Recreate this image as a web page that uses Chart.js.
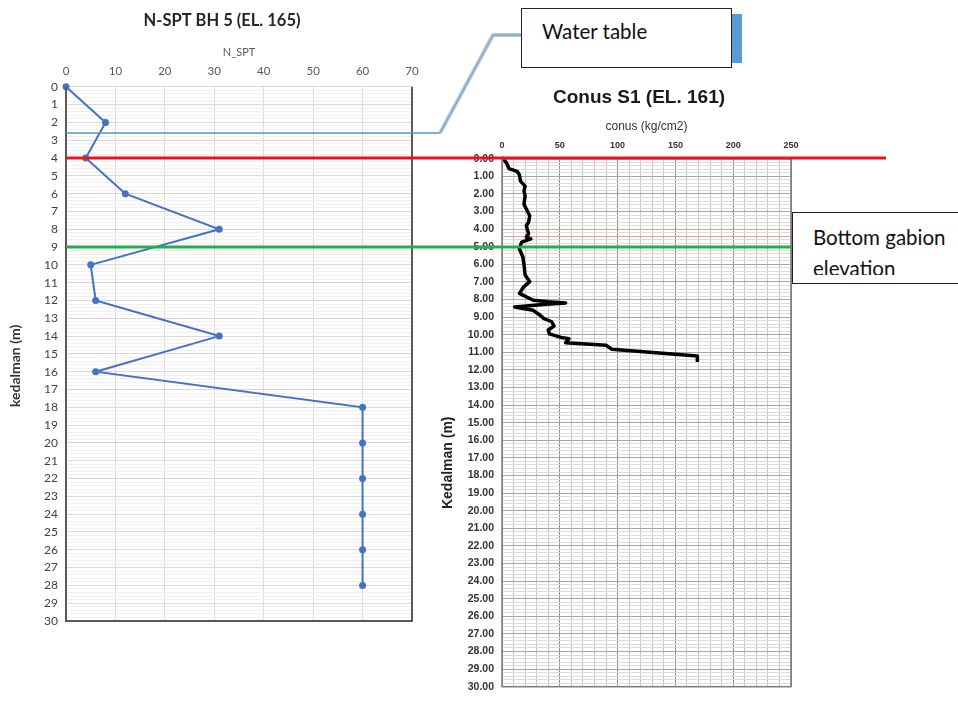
<!DOCTYPE html>
<html>
<head>
<meta charset="utf-8">
<script src="https://cdn.jsdelivr.net/npm/chart.js@4"></script>
<style>
html,body{margin:0;padding:0;background:#fff;width:958px;height:701px;overflow:hidden;}
canvas{position:absolute;left:0;top:0;}
#c2{z-index:1;}
#c1{z-index:2;}
.box{position:absolute;background:#fff;border:1.5px solid #222;box-sizing:border-box;font-family:Lato,"Open Sans",sans-serif;color:#111;z-index:4;}
#wtShadow{position:absolute;left:700px;top:14px;width:42px;height:49px;background:#5b9bd5;z-index:3;}
#wt{left:521px;top:8px;width:211px;height:60px;font-size:20.5px;padding:10px 0 0 20px;}
#gab{left:792px;top:212px;width:180px;height:72px;}
#gabIn{position:absolute;left:0;top:0;width:100%;height:62px;overflow:hidden;font-size:20.5px;line-height:31px;padding:9px 0 0 20px;box-sizing:border-box;}
</style>
</head>
<body>
<canvas id="c2" width="958" height="701"></canvas>
<canvas id="c1" width="958" height="701"></canvas>
<div id="wtShadow"></div>
<div class="box" id="wt">Water table</div>
<div class="box" id="gab"><div id="gabIn">Bottom gabion<br>elevation</div></div>
<script>
// ---- data ----
const nsptDepth = [0, 2, 4, 6, 8, 10, 12, 14, 16, 18, 20, 22, 24, 26, 28];
const nsptValue = [0, 8, 4, 12, 31, 5, 6, 31, 6, 60, 60, 60, 60, 60, 60];

const conusDepth = [0.00, 0.24, 0.56, 0.71, 0.90, 1.27, 1.55, 1.83, 2.11, 2.58, 3.24, 3.61, 3.80, 4.26, 4.45, 4.55, 4.73, 5.11, 5.57, 6.00, 6.60, 6.98, 7.26, 7.65, 8.04, 8.12, 8.19, 8.27, 8.42, 8.61, 8.89, 9.07, 9.26, 9.50, 9.73, 9.95, 10.15, 10.22, 10.45, 10.60, 10.82, 11.20, 11.45];
const conusValue = [1, 4, 6, 13, 15, 16, 20, 19, 20, 19, 24, 23, 21, 23, 21, 25, 17, 15, 18, 19, 20, 24, 19, 15, 27, 40, 55, 38, 11, 27, 33, 36, 43, 45, 40, 41, 51, 58, 55, 90, 95, 169, 169];

const waterTableDepth = 2.6;   // on N-SPT depth axis
const conusTopDepth = 4;       // red line
const gabionDepth = 9;         // green line

const titleLeft = 'N-SPT BH 5 (EL. 165)';
const titleRight = 'Conus S1 (EL. 161)';
const yTitleLeft = 'kedalman (m)';
const yTitleRight = 'Kedalman (m)';

const isInt = v => Math.abs(v - Math.round(v)) < 1e-6;
const near = (v, t) => Math.abs(v - t) < 1e-6;

function vText(ctx, text, x, y, font, color) {
  ctx.save();
  ctx.translate(x, y);
  ctx.rotate(-Math.PI / 2);
  ctx.font = font;
  ctx.fillStyle = color;
  ctx.textAlign = 'center';
  ctx.textBaseline = 'middle';
  ctx.fillText(text, 0, 0);
  ctx.restore();
}

// ---- plugins ----
const frameLeft = {
  id: 'frameLeft',
  afterDatasetsDraw(chart) {
    const {ctx, chartArea: a} = chart;
    ctx.save();
    ctx.strokeStyle = '#595959';
    ctx.lineWidth = 2;
    ctx.beginPath();
    ctx.moveTo(a.left, a.top); ctx.lineTo(a.left, a.bottom); ctx.lineTo(a.right, a.bottom); ctx.lineTo(a.right, a.top);
    ctx.stroke();
    ctx.restore();
  },
  afterDraw(chart) {
    const {ctx, chartArea: a, scales: {y}} = chart;
    vText(ctx, yTitleLeft, 15, (a.top + a.bottom) / 2 + 12, 'bold 14px Lato', '#333');
    ctx.save();
    // water table
    const yw = y.getPixelForValue(waterTableDepth);
    ctx.strokeStyle = '#5a96b8'; ctx.lineWidth = 1.5;
    ctx.beginPath(); ctx.moveTo(a.left, yw); ctx.lineTo(440, yw); ctx.stroke();
    // callout
    ctx.lineJoin = 'round';
    ctx.strokeStyle = '#b7cbe0'; ctx.lineWidth = 4;
    ctx.beginPath(); ctx.moveTo(440, yw); ctx.lineTo(493, 35); ctx.lineTo(522, 35); ctx.stroke();
    ctx.strokeStyle = '#8aa6c2'; ctx.lineWidth = 1.5;
    ctx.beginPath(); ctx.moveTo(440, yw); ctx.lineTo(493, 35); ctx.lineTo(522, 35); ctx.stroke();
    // red
    const yr = y.getPixelForValue(conusTopDepth);
    ctx.strokeStyle = '#e8141c'; ctx.lineWidth = 3;
    ctx.beginPath(); ctx.moveTo(a.left, yr); ctx.lineTo(886, yr); ctx.stroke();
    // green
    const yg = y.getPixelForValue(gabionDepth);
    ctx.strokeStyle = '#22ab4f'; ctx.lineWidth = 3;
    ctx.beginPath(); ctx.moveTo(a.left, yg); ctx.lineTo(795, yg); ctx.stroke();
    ctx.restore();
  }
};
const frameRight = {
  id: 'frameRight',
  afterDatasetsDraw(chart) {
    const {ctx, chartArea: a} = chart;
    ctx.save();
    ctx.strokeStyle = '#7a7a7a';
    ctx.lineWidth = 1.5;
    ctx.strokeRect(a.left, a.top, a.right - a.left, a.bottom - a.top);
    ctx.restore();
  },
  afterDraw(chart) {
    const {ctx, chartArea: a} = chart;
    vText(ctx, yTitleRight, 448, (a.top + a.bottom) / 2 + 40, 'bold 14px "Liberation Sans"', '#222');
  }
};

const dummy = w => ({
  type: 'linear', position: 'right', display: true,
  ticks: {display: false}, grid: {display: false, drawTicks: false}, border: {display: false},
  afterFit(s) { s.width = w; }
});

// ---- left chart ----
new Chart(document.getElementById('c1'), {
  type: 'scatter',
  data: {
    datasets: [{
      data: nsptDepth.map((d, i) => ({x: nsptValue[i], y: d})),
      showLine: true,
      borderColor: '#4472c4',
      backgroundColor: '#4472c4',
      borderWidth: 2,
      pointRadius: 3.5,
      pointBorderWidth: 0,
      clip: 6
    }]
  },
  options: {
    responsive: false, animation: false, devicePixelRatio: 1,
    layout: {padding: {left: 0, right: 514, top: 0, bottom: 80}},
    plugins: {
      legend: {display: false}, tooltip: {enabled: false},
      title: {display: true, text: titleLeft, color: '#262626', font: {family: 'Lato', size: 16.5, weight: 'bold'}, padding: {top: 11, bottom: 5}}
    },
    scales: {
      x: {
        type: 'linear', position: 'top', min: 0, max: 70,
        ticks: {stepSize: 10, autoSkip: false, maxRotation: 0, minRotation: 0, color: '#595959', font: {family: 'Lato', size: 11.5}, padding: 9},
        grid: {color: '#d9d9d9', drawTicks: false},
        border: {display: false},
        title: {display: true, text: 'N_SPT', color: '#595959', font: {family: 'Lato', size: 11}, padding: {top: 10, bottom: 0}},
        afterFit(s) { s.height = 51; }
      },
      y: {
        type: 'linear', position: 'left', reverse: true, min: 0, max: 30,
        ticks: {stepSize: 0.2, autoSkip: false, color: '#404040', font: {family: 'Lato', size: 12}, padding: 8,
          callback: v => isInt(v) ? String(Math.round(v)) : ''},
        grid: {drawTicks: false, color: c => (c.tick && isInt(c.tick.value)) ? '#d9d9d9' : '#f0f0f0'},
        border: {display: false},
        title: {display: false},
        afterFit(s) { s.width = 66; }
      },
      yR: dummy(32)
    }
  },
  plugins: [frameLeft]
});

// ---- right chart ----
new Chart(document.getElementById('c2'), {
  type: 'scatter',
  data: {
    datasets: [{
      data: conusDepth.map((d, i) => ({x: conusValue[i], y: d})),
      showLine: true,
      borderColor: '#000',
      borderWidth: 3.5,
      pointRadius: 0,
      borderJoinStyle: 'round',
      borderCapStyle: 'square',
      clip: 6
    }]
  },
  options: {
    responsive: false, animation: false, devicePixelRatio: 1,
    layout: {padding: {left: 436, right: 116, top: 0, bottom: 3}},
    plugins: {
      legend: {display: false}, tooltip: {enabled: false},
      title: {display: true, text: titleRight, color: '#1a1a1a', font: {family: 'Liberation Sans', size: 19, weight: 'bold'}, padding: {top: 86, bottom: 3}}
    },
    scales: {
      x: {
        type: 'linear', position: 'top', min: 0, max: 250,
        ticks: {stepSize: 10, autoSkip: false, maxRotation: 0, minRotation: 0, color: '#333', font: {family: 'Liberation Sans', size: 9, weight: 'bold'}, padding: 8,
          callback: v => (Math.round(v) % 50 === 0) ? String(Math.round(v)) : ''},
        grid: {drawTicks: false, color: c => (c.tick && Math.round(c.tick.value) % 50 === 0) ? '#8c8c8c' : '#c4c4c4'},
        border: {display: false},
        title: {display: true, text: 'conus (kg/cm2)', color: '#333', font: {family: 'Liberation Sans', size: 12}, padding: {top: 8, bottom: 0}},
        afterFit(s) { s.height = 47; }
      },
      y: {
        type: 'linear', position: 'left', reverse: true, min: 0, max: 30,
        ticks: {stepSize: 0.2, autoSkip: false, color: '#333', font: {family: 'Liberation Sans', size: 10.5, weight: 'bold'}, padding: 8,
          callback: v => isInt(v) ? Math.round(v).toFixed(2) : ''},
        grid: {drawTicks: false, color: c => {
          if (!c.tick) return '#dcdcdc';
          const v = c.tick.value;
          if (near(v, 4) || near(v, 4.4)) return '#e7a0a0';
          return isInt(v) ? '#a6a6a6' : '#dcdcdc';
        }},
        border: {display: false},
        title: {display: false},
        afterFit(s) { s.width = 66; }
      },
      yR: dummy(51)
    }
  },
  plugins: [frameRight]
});
</script>
</body>
</html>
